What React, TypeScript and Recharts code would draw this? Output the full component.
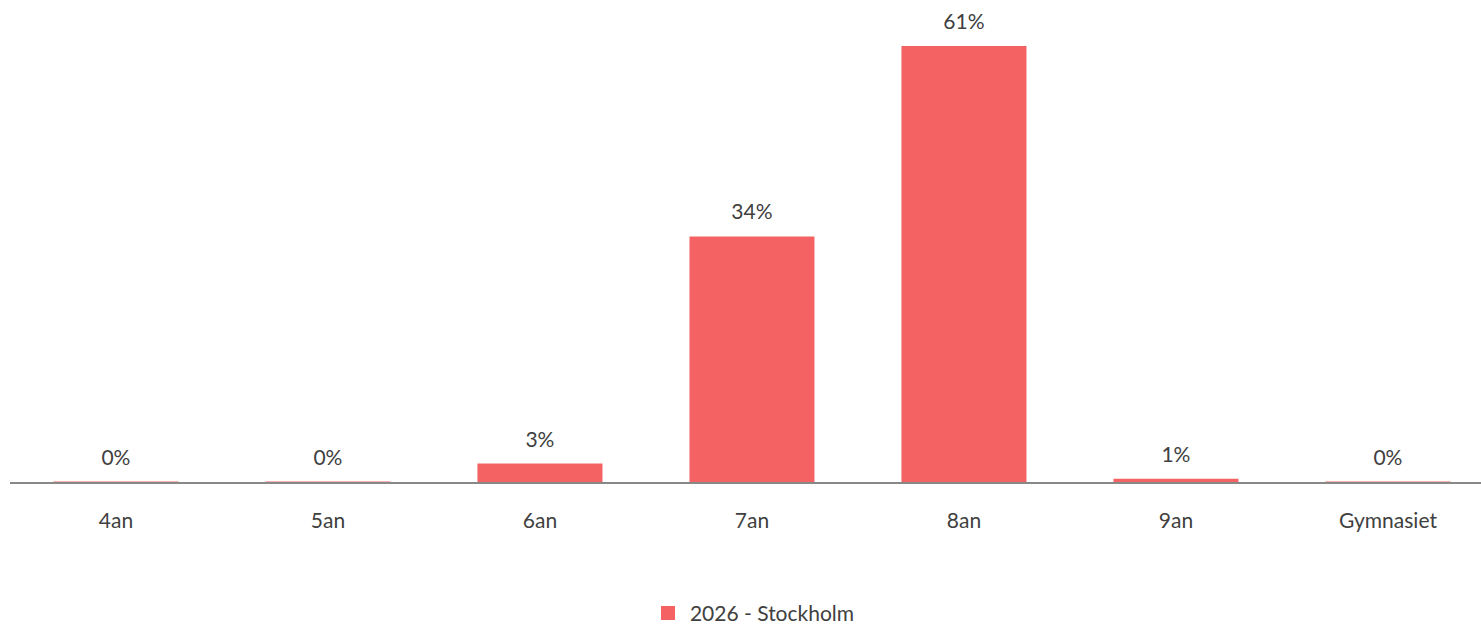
import { BarChart, Bar, XAxis, YAxis, Legend, LabelList } from "recharts";

const categories = ["4an", "5an", "6an", "7an", "8an", "9an", "Gymnasiet"];
const stockholm2026 = [0.2, 0.2, 2.7, 34.3, 60.8, 0.6, 0.2];
const seriesName = "2026 - Stockholm";

const BAR_COLOR = "#F46264";
const TEXT_COLOR = "#404040";
const FONT = "Lato, 'Open Sans', sans-serif";

const data = categories.map((c, i) => ({ name: c, value: stockholm2026[i] }));

function LegendContent() {
  return (
    <div
      style={{
        display: "flex",
        justifyContent: "center",
        alignItems: "center",
        paddingTop: 16,
        paddingLeft: 11,
        fontFamily: FONT,
        fontSize: 21,
        lineHeight: "22px",
        color: TEXT_COLOR,
      }}
    >
      <span style={{ width: 14, height: 14, background: BAR_COLOR, display: "inline-block", marginRight: 15 }} />
      <span>{seriesName}</span>
    </div>
  );
}

export default function App() {
  return (
    <div style={{ position: "fixed", left: 0, top: 0, width: 1481, height: 626, overflow: "hidden", background: "#fff" }}>
      <BarChart
        width={1505}
        height={626}
        data={data}
        margin={{ top: 46, right: 11, bottom: 0, left: 10 }}
        barCategoryGap="20.5%"
      >
        <XAxis
          dataKey="name"
          axisLine={{ stroke: "#888888", strokeWidth: 2 }}
          tickLine={false}
          tickMargin={24}
          height={103}
          interval={0}
          tick={{ fill: TEXT_COLOR, fontSize: 21, fontFamily: FONT }}
        />
        <YAxis hide domain={[0, "dataMax"]} />
        <Legend verticalAlign="bottom" height={40} content={<LegendContent />} />
        <Bar dataKey="value" name={seriesName} fill={BAR_COLOR} isAnimationActive={false}>
          <LabelList
            dataKey="value"
            position="top"
            offset={17}
            formatter={(v: number) => `${Math.round(v)}%`}
            style={{ fill: TEXT_COLOR, fontSize: 21, fontFamily: FONT }}
          />
        </Bar>
      </BarChart>
    </div>
  );
}
